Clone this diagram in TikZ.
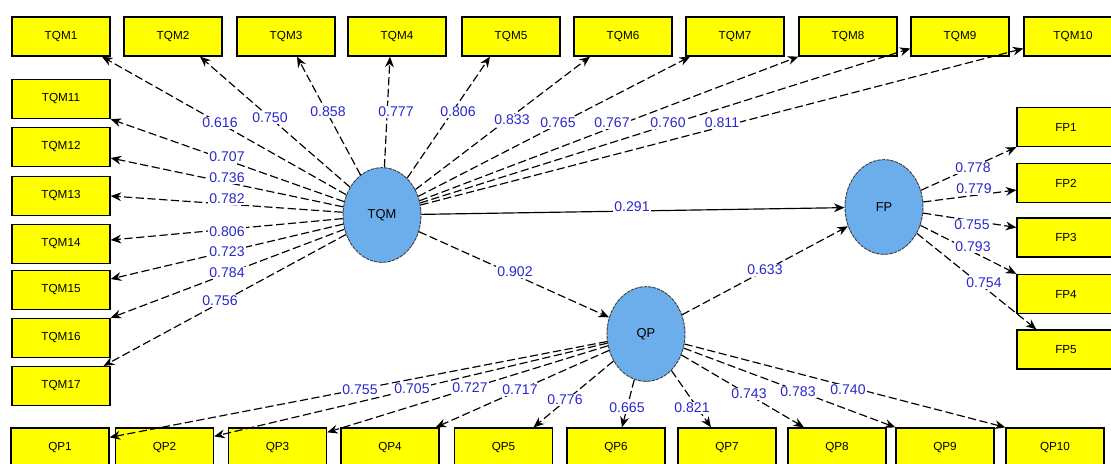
\documentclass[tikz,border=0pt]{standalone}
\usepackage{fontspec}
\setmainfont{Liberation Sans}
\usetikzlibrary{arrows.meta,shapes.geometric}
\definecolor{boxyellow}{RGB}{255,255,0}
\definecolor{lvblue}{RGB}{108,174,236}
\definecolor{lblblue}{RGB}{40,40,205}
\begin{document}
\begin{tikzpicture}[x=0.03cm,y=-0.03cm,
  ind/.style={draw=black,line width=1.1pt,fill=boxyellow,minimum width=2.94cm,minimum height=1.17cm,inner sep=0pt,font=\fontsize{10}{12}\selectfont},
  lv/.style={ellipse,draw=black!75,line width=0.8pt,dash pattern=on 3pt off 0.8pt,fill=lvblue,minimum width=2.34cm,minimum height=2.84cm,inner sep=0pt,font=\fontsize{11}{13}\selectfont},
  load/.style={draw=black,line width=1pt,dash pattern=on 7pt off 3pt,-{Stealth[length=9pt,width=7.5pt]}},
  solidpath/.style={draw=black,line width=1pt,-{Stealth[length=9pt,width=7.5pt]}},
  coef/.style={text=lblblue,fill=white,inner sep=1pt,font=\fontsize{12}{14}\selectfont}]
\useasboundingbox (0,0) rectangle (1111,463);
\clip (0,0) rectangle (1111,463);
% top indicators
\node[ind] (t1) at (61,36.5) {TQM1};
\node[ind] (t2) at (173,36.5) {TQM2};
\node[ind] (t3) at (286,36.5) {TQM3};
\node[ind] (t4) at (397,36.5) {TQM4};
\node[ind] (t5) at (511,36.5) {TQM5};
\node[ind] (t6) at (623,36.5) {TQM6};
\node[ind] (t7) at (735,36.5) {TQM7};
\node[ind] (t8) at (848,36.5) {TQM8};
\node[ind] (t9) at (960,36.5) {TQM9};
\node[ind] (t10) at (1073,36.5) {TQM10};
% left indicators
\node[ind] (l11) at (61,99) {TQM11};
\node[ind] (l12) at (61,147) {TQM12};
\node[ind] (l13) at (61,196) {TQM13};
\node[ind] (l14) at (61,244) {TQM14};
\node[ind] (l15) at (61,290) {TQM15};
\node[ind] (l16) at (61,338) {TQM16};
\node[ind] (l17) at (61,386) {TQM17};
% FP indicators
\node[ind] (f1) at (1066,127) {FP1};
\node[ind] (f2) at (1066,183) {FP2};
\node[ind] (f3) at (1066,237.5) {FP3};
\node[ind] (f4) at (1066,294) {FP4};
\node[ind] (f5) at (1066,349.5) {FP5};
% QP indicators
\node[ind] (q1) at (60,447.5) {QP1};
\node[ind] (q2) at (164.5,447.5) {QP2};
\node[ind] (q3) at (277.5,447.5) {QP3};
\node[ind] (q4) at (390,447.5) {QP4};
\node[ind] (q5) at (503.5,447.5) {QP5};
\node[ind] (q6) at (616,447.5) {QP6};
\node[ind] (q7) at (727,447.5) {QP7};
\node[ind] (q8) at (837,447.5) {QP8};
\node[ind] (q9) at (945,447.5) {QP9};
\node[ind] (q10) at (1055,447.5) {QP10};
% latent variables
\node[lv] (TQM) at (382,215) {TQM};
\node[lv] (FP) at (884,207) {FP};
\node[lv] (QP) at (646,334) {QP};
% TQM loadings
\draw[load] (TQM) -- ([xshift=1.23cm]t1.south);
\draw[load] (TQM) -- ([xshift=0.81cm]t2.south);
\draw[load] (TQM) -- ([xshift=0.33cm]t3.south);
\draw[load] (TQM) -- ([xshift=-0.21cm]t4.south);
\draw[load] (TQM) -- ([xshift=-0.63cm]t5.south);
\draw[load] (TQM) -- ([xshift=-0.99cm]t6.south);
\draw[load] (TQM) -- ([xshift=-1.35cm]t7.south);
\draw[load] (TQM) -- (t8.south west);
\draw[load] (TQM) -- ([yshift=-0.36cm]t9.west);
\draw[load] (TQM) -- ([yshift=-0.36cm]t10.west);
\draw[load] (TQM) -- (l11.south east);
\draw[load] (TQM) -- ([yshift=-0.33cm]l12.east);
\draw[load] (TQM) -- (l13.east);
\draw[load] (TQM) -- ([yshift=0.12cm]l14.east);
\draw[load] (TQM) -- ([yshift=0.33cm]l15.east);
\draw[load] (TQM) -- (l16.north east);
\draw[load] (TQM) -- ([xshift=-0.21cm]l17.north east);
% FP loadings
\draw[load] (FP) -- (f1.south west);
\draw[load] (FP) -- ([yshift=-0.21cm]f2.west);
\draw[load] (FP) -- ([yshift=0.3cm]f3.west);
\draw[load] (FP) -- (f4.north west);
\draw[load] (FP) -- ([xshift=0.6cm]f5.north west);
% QP loadings
\draw[load] (QP) -- ([yshift=-0.3cm]q1.north east);
\draw[load] (QP) -- ([yshift=-0.27cm]q2.north east);
\draw[load] (QP) -- ([yshift=-0.15cm]q3.north east);
\draw[load] (QP) -- ([xshift=-0.12cm]q4.north east);
\draw[load] (QP) -- ([xshift=0.9cm]q5.north);
\draw[load] (QP) -- ([xshift=0.18cm]q6.north);
\draw[load] (QP) -- ([xshift=-0.48cm]q7.north);
\draw[load] (QP) -- ([xshift=-0.99cm]q8.north);
\draw[load] (QP) -- (q9.north west);
\draw[load] (QP) -- (q10.north west);
% structural paths
\draw[solidpath] (TQM) -- (FP);
\draw[load] (TQM) -- (QP);
\draw[load] (QP) -- (FP);
% coefficients
\node[coef] (c1) at (220,123) {0.616};
\node[coef] (c2) at (270,118) {0.750};
\node[coef] (c3) at (328,112) {0.858};
\node[coef] (c4) at (396,112) {0.777};
\node[coef] (c5) at (458,112) {0.806};
\node[coef] (c6) at (512,120) {0.833};
\node[coef] (c7) at (558,123) {0.765};
\node[coef] (c8) at (612,123) {0.767};
\node[coef] (c9) at (668,123) {0.760};
\node[coef] (c10) at (722,123) {0.811};
\node[coef] (c11) at (227,157) {0.707};
\node[coef] (c12) at (227,178) {0.736};
\node[coef] (c13) at (227,199) {0.782};
\node[coef] (c14) at (227,232) {0.806};
\node[coef] (c15) at (227,252) {0.723};
\node[coef] (c16) at (227,273) {0.784};
\node[coef] (c17) at (220,301) {0.756};
\node[coef] (s1) at (632,207) {0.291};
\node[coef] (s2) at (515,272) {0.902};
\node[coef] (s3) at (765,270) {0.633};
\node[coef] (p1) at (973,168) {0.778};
\node[coef] (p2) at (974,189) {0.779};
\node[coef] (p3) at (972,225) {0.755};
\node[coef] (p4) at (973,247) {0.793};
\node[coef] (p5) at (984,283) {0.754};
\node[coef] (r1) at (360,390) {0.755};
\node[coef] (r2) at (412,389) {0.705};
\node[coef] (r3) at (470,388) {0.727};
\node[coef] (r4) at (520,390) {0.717};
\node[coef] (r5) at (565,400) {0.776};
\node[coef] (r6) at (627,408) {0.665};
\node[coef] (r7) at (692,408) {0.821};
\node[coef] (r8) at (749,394) {0.743};
\node[coef] (r9) at (798,392) {0.783};
\node[coef] (r10) at (848,390) {0.740};
\end{tikzpicture}
\end{document}
